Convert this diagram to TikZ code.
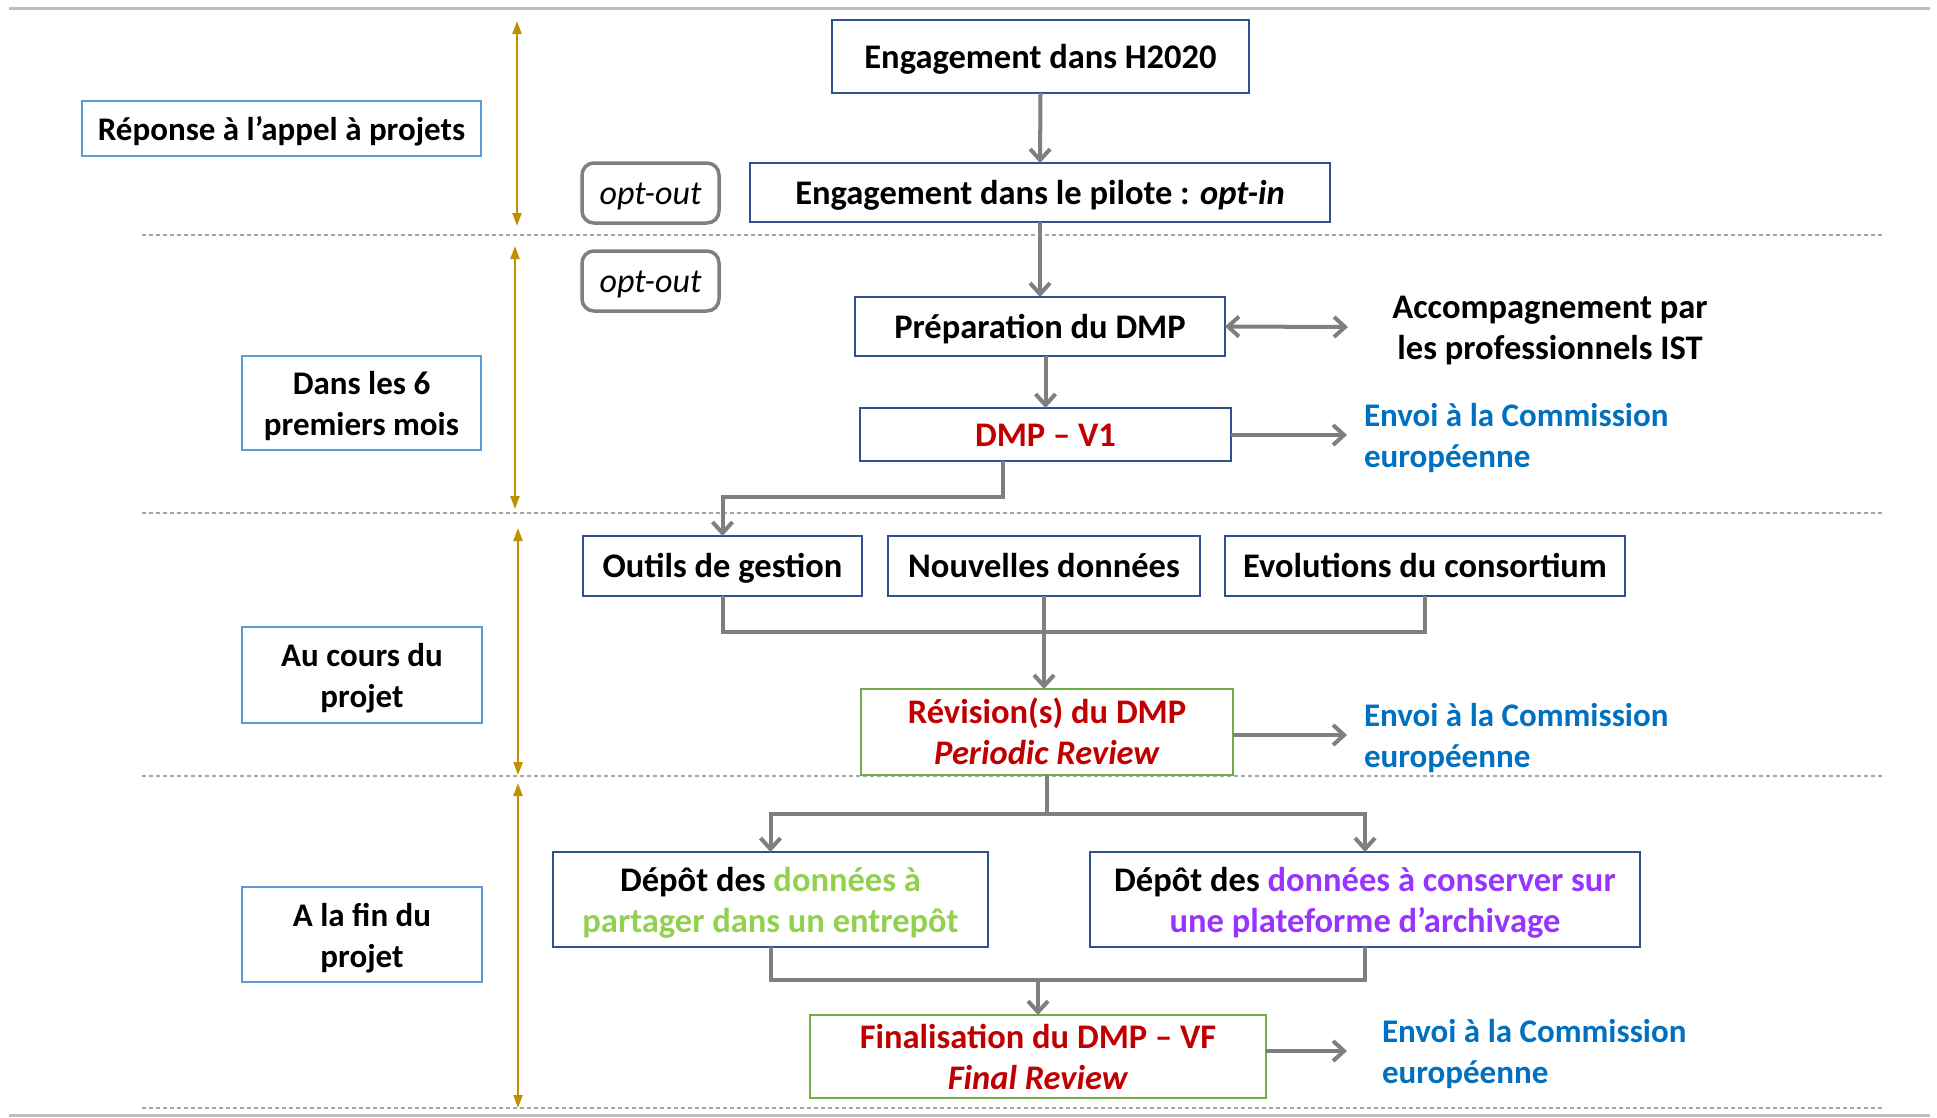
\documentclass[tikz,border=0pt]{standalone}
\usepackage{fontspec}
\setmainfont{Carlito}
\usetikzlibrary{arrows.meta}
\definecolor{navy}{HTML}{2F528F}
\definecolor{lblue}{HTML}{5B9BD5}
\definecolor{gborder}{HTML}{70AD47}
\definecolor{conngray}{HTML}{7F7F7F}
\definecolor{gold}{HTML}{BF9000}
\definecolor{dred}{HTML}{C00000}
\definecolor{eblue}{HTML}{0070C0}
\definecolor{lgreen}{HTML}{92D050}
\definecolor{purp}{HTML}{9933FF}
\definecolor{sepgray}{HTML}{A6A6A6}
\definecolor{rulegray}{HTML}{BFBFBF}
\begin{document}
\begin{tikzpicture}[x=1pt,y=-1pt,
  every node/.style={inner sep=0pt, outer sep=0pt, align=center,
    font=\fontsize{34.5}{41}\selectfont\bfseries,
    execute at begin node={\rule[-9pt]{0pt}{41pt}},
    execute at end node={\rule[-9pt]{0pt}{9pt}}},
  twoline/.style={text height=65pt, text depth=0pt},
  bsize/.style 2 args={minimum width=#1pt, minimum height=#2pt},
  navybox/.style={draw=navy, line width=2.2pt},
  phasebox/.style={draw=lblue, line width=2pt, font=\fontsize{33}{41}\selectfont\bfseries},
  greenbox/.style={draw=gborder, line width=2pt},
  optbox/.style={draw=conngray, line width=3.5pt, rounded corners=12pt, font=\fontsize{34}{41}\selectfont\itshape},
  cline/.style={draw=conngray, line width=4pt},
  conn/.style={cline, -{Straight Barb[length=11pt,width=20pt]}},
  dconn/.style={cline, {Straight Barb[length=11pt,width=20pt]}-{Straight Barb[length=11pt,width=20pt]}},
  timeline/.style={draw=gold, line width=2.2pt, {Triangle[length=13pt,width=9pt]}-{Triangle[length=13pt,width=9pt]}},
  sepline/.style={draw=sepgray, line width=1.3pt, dash pattern=on 4pt off 3pt},
  envoi/.style={text=eblue, align=left, anchor=west, inner xsep=17pt, twoline, font=\fontsize{33}{41}\selectfont\bfseries},
]
\useasboundingbox (0,0) rectangle (1937,1117);
\fill[white] (0,0) rectangle (1937,1117);

% rules and separators
\draw[draw=rulegray, line width=3pt] (9,8) -- (1930,8);
\draw[draw=rulegray, line width=3pt] (9,1115) -- (1930,1115);
\draw[sepline] (142,235) -- (1885,235);
\draw[sepline] (142,513) -- (1885,513);
\draw[sepline] (142,776) -- (1885,776);
\draw[sepline] (142,1108) -- (1885,1108);

% timelines
\draw[timeline] (517,21) -- (517,226);
\draw[timeline] (515,246) -- (515,509);
\draw[timeline] (518,528) -- (518,775);
\draw[timeline] (518,783) -- (518,1108);

% phase labels
\node[phasebox, bsize={399}{55}] (p1) at (281.5,128.5) {Réponse à l’appel à projets};
\node[phasebox, twoline, bsize={239}{94}] (p2) at (361.5,403) {Dans les 6\\premiers mois};
\node[phasebox, twoline, bsize={240}{96}] (p3) at (362,675) {Au cours du\\projet};
\node[phasebox, twoline, bsize={240}{95}] (p4) at (362,934.5) {A la fin du\\projet};

% opt-out
\node[optbox, bsize={137}{60}] (opt1) at (650.5,193) {opt-out};
\node[optbox, bsize={137}{60}] (opt2) at (650.5,281) {opt-out};

% main flow
\node[navybox, bsize={417}{73}] (h2020) at (1040.5,56.5) {Engagement dans H2020};
\node[navybox, bsize={580}{59}] (optin) at (1040,192.5) {Engagement dans le pilote : \textit{opt-in}};
\node[navybox, bsize={370}{59}] (prep) at (1040,326.5) {Préparation du DMP};
\node[navybox, bsize={371}{53}, text=dred] (v1) at (1045.5,434.5) {DMP – V1};
\node[navybox, bsize={279}{60}] (outils) at (722.5,566) {Outils de gestion};
\node[navybox, bsize={312}{60}] (nouv) at (1044,566) {Nouvelles données};
\node[navybox, bsize={400}{60}] (evol) at (1425,566) {Evolutions du consortium};
\node[greenbox, twoline, bsize={372}{86}, text=dred] (revis) at (1047,732) {Révision(s) du DMP\\\textit{Periodic Review}};
\node[navybox, twoline, bsize={435}{95}] (partager) at (770.5,899.5) {Dépôt des {\color{lgreen}données à}\\{\color{lgreen}partager dans un entrepôt}};
\node[navybox, twoline, bsize={550}{95}] (conserv) at (1365,899.5) {Dépôt des {\color{purp}données à conserver sur}\\{\color{purp}une plateforme d’archivage}};
\node[greenbox, twoline, bsize={456}{83}, text=dred] (final) at (1038,1056.5) {Finalisation du DMP – VF\\\textit{Final Review}};

% right side texts
\node[twoline] (accomp) at (1550,327) {Accompagnement par\\les professionnels IST};
\coordinate (accin) at (1348,327);
\node[envoi] (envoi1) at (1347,435) {Envoi à la Commission\\européenne};
\node[envoi] (envoi2) at (1347,735) {Envoi à la Commission\\européenne};
\node[envoi, inner xsep=35pt] (envoi3) at (1347,1051) {Envoi à la Commission\\européenne};

% connectors
\draw[conn] (h2020.south) -- (optin.north);
\draw[conn] (optin.south) -- (prep.north);
\draw[conn] (prep.south -| v1.north) -- (v1.north);
\draw[dconn] (prep.east) -- (accin);
\draw[conn] (v1.east |- envoi1.west) -- (envoi1.west);
\coordinate (j1) at (1003,497);
\draw[conn] (v1.south -| j1) -- (j1) -| (outils.north);
\coordinate (j2) at (1045,632);
\draw[cline] (outils.south) |- (j2) -| (evol.south);
\draw[conn] (nouv.south) -- (nouv.south |- revis.north);
\draw[conn] (revis.east |- envoi2.west) -- (envoi2.west);
\coordinate (j3) at (1047,814);
\draw[cline] (revis.south) -- (j3);
\draw[conn] (j3) -| (partager.north);
\draw[conn] (j3) -| (conserv.north);
\coordinate (j4) at (1038,980);
\draw[cline] (partager.south) |- (j4) -| (conserv.south);
\draw[conn] (j4) -- (j4 |- final.north);
\draw[conn] (final.east |- envoi3.west) -- (envoi3.west);
\end{tikzpicture}
\end{document}
